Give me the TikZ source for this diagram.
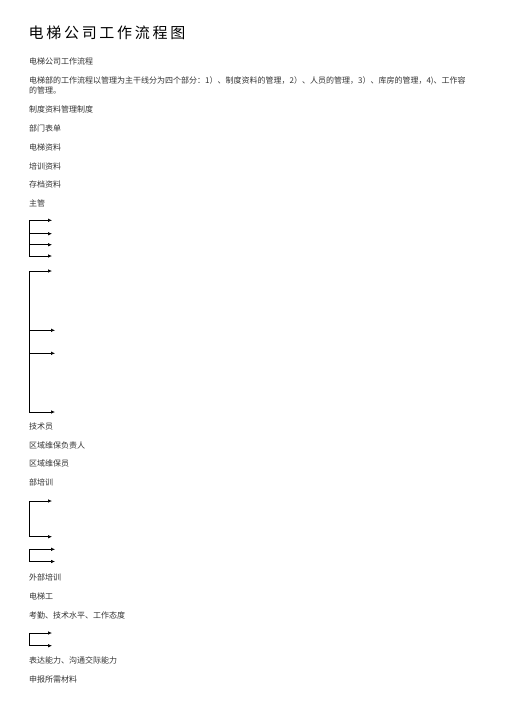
\documentclass[tikz,border=0pt]{standalone}
\usepackage{fontspec}
\setmainfont{Noto Sans CJK SC}
\newfontfamily\ttlfont[LetterSpace=18]{Noto Sans CJK SC}
\usetikzlibrary{arrows.meta}
\definecolor{txt}{HTML}{333333}
\tikzset{
  body/.style={anchor=west, inner sep=0pt, text=txt, font=\fontsize{8}{10}\selectfont},
  ttl/.style={anchor=west, inner sep=0pt, text=black, font=\ttlfont\fontsize{15}{18}\selectfont},
  arr/.style={-{Latex[length=4pt,width=3.6pt]}, line width=0.7pt, black},
  vline/.style={line width=0.7pt, black}
}
\begin{document}
\begin{tikzpicture}[x=1pt,y=-1pt]
\useasboundingbox (0,0) rectangle (504,713);
\node[ttl] (title) at (28.5,33) {电梯公司工作流程图};
\node[body] (t1) at (29,61) {电梯公司工作流程};
\node[body, align=left, anchor=north west] (t2) at (29,76.5) {电梯部的工作流程以管理为主干线分为四个部分：1）、制度资料的管理，2）、人员的管理，3）、库房的管理，4)、工作容\\的管理。};
\node[body] (t3) at (29,109) {制度资料管理制度};
\node[body] (t4) at (29,128) {部门表单};
\node[body] (t5) at (29,147) {电梯资料};
\node[body] (t6) at (29,166) {培训资料};
\node[body] (t7) at (29,184.5) {存档资料};
\node[body] (t8) at (29,203) {主管};
% group 1
\coordinate (a1) at (29.3,220.3);
\coordinate (a2) at (29.3,233.7);
\coordinate (a3) at (29.3,244.7);
\coordinate (a4) at (29.3,256);
\coordinate (b1) at (52,220.3);
\coordinate (b2) at (52,233.7);
\coordinate (b3) at (52,244.7);
\coordinate (b4) at (52,256);
\draw[vline] (a1) -- (a4);
\foreach \i in {1,2,3,4} \draw[arr] (a\i) -- (b\i);
% group 2
\coordinate (c1) at (29.3,271);
\coordinate (c2) at (29.3,330.3);
\coordinate (c3) at (29.3,353.3);
\coordinate (c4) at (29.3,412);
\coordinate (d1) at (52,271);
\coordinate (d2) at (55,330.3);
\coordinate (d3) at (55,353.3);
\coordinate (d4) at (55,412);
\draw[vline] (c1) -- (c4);
\foreach \i in {1,2,3,4} \draw[arr] (c\i) -- (d\i);
\node[body] (t9) at (29,426) {技术员};
\node[body] (t10) at (29,445) {区域维保负责人};
\node[body] (t11) at (29,463.5) {区域维保员};
\node[body] (t12) at (29,482) {部培训};
% group 3
\coordinate (e1) at (29.3,501);
\coordinate (e2) at (29.3,536.7);
\coordinate (f1) at (52,501);
\coordinate (f2) at (52,536.7);
\draw[vline] (e1) -- (e2);
\draw[arr] (e1) -- (f1);
\draw[arr] (e2) -- (f2);
% group 4
\coordinate (g1) at (29.3,549.3);
\coordinate (g2) at (29.3,561.5);
\coordinate (h1) at (55,549.3);
\coordinate (h2) at (55,561.5);
\draw[vline] (g1) -- (g2);
\draw[arr] (g1) -- (h1);
\draw[arr] (g2) -- (h2);
\node[body] (t13) at (29,577) {外部培训};
\node[body] (t14) at (29,596) {电梯工};
\node[body] (t15) at (29,615) {考勤、技术水平、工作态度};
% group 5
\coordinate (k1) at (29.3,633);
\coordinate (k2) at (29.3,645.7);
\coordinate (m1) at (52,633);
\coordinate (m2) at (52,645.7);
\draw[vline] (k1) -- (k2);
\draw[arr] (k1) -- (m1);
\draw[arr] (k2) -- (m2);
\node[body] (t16) at (29,660) {表达能力、沟通交际能力};
\node[body] (t17) at (29,679) {申报所需材料};
\end{tikzpicture}
\end{document}
